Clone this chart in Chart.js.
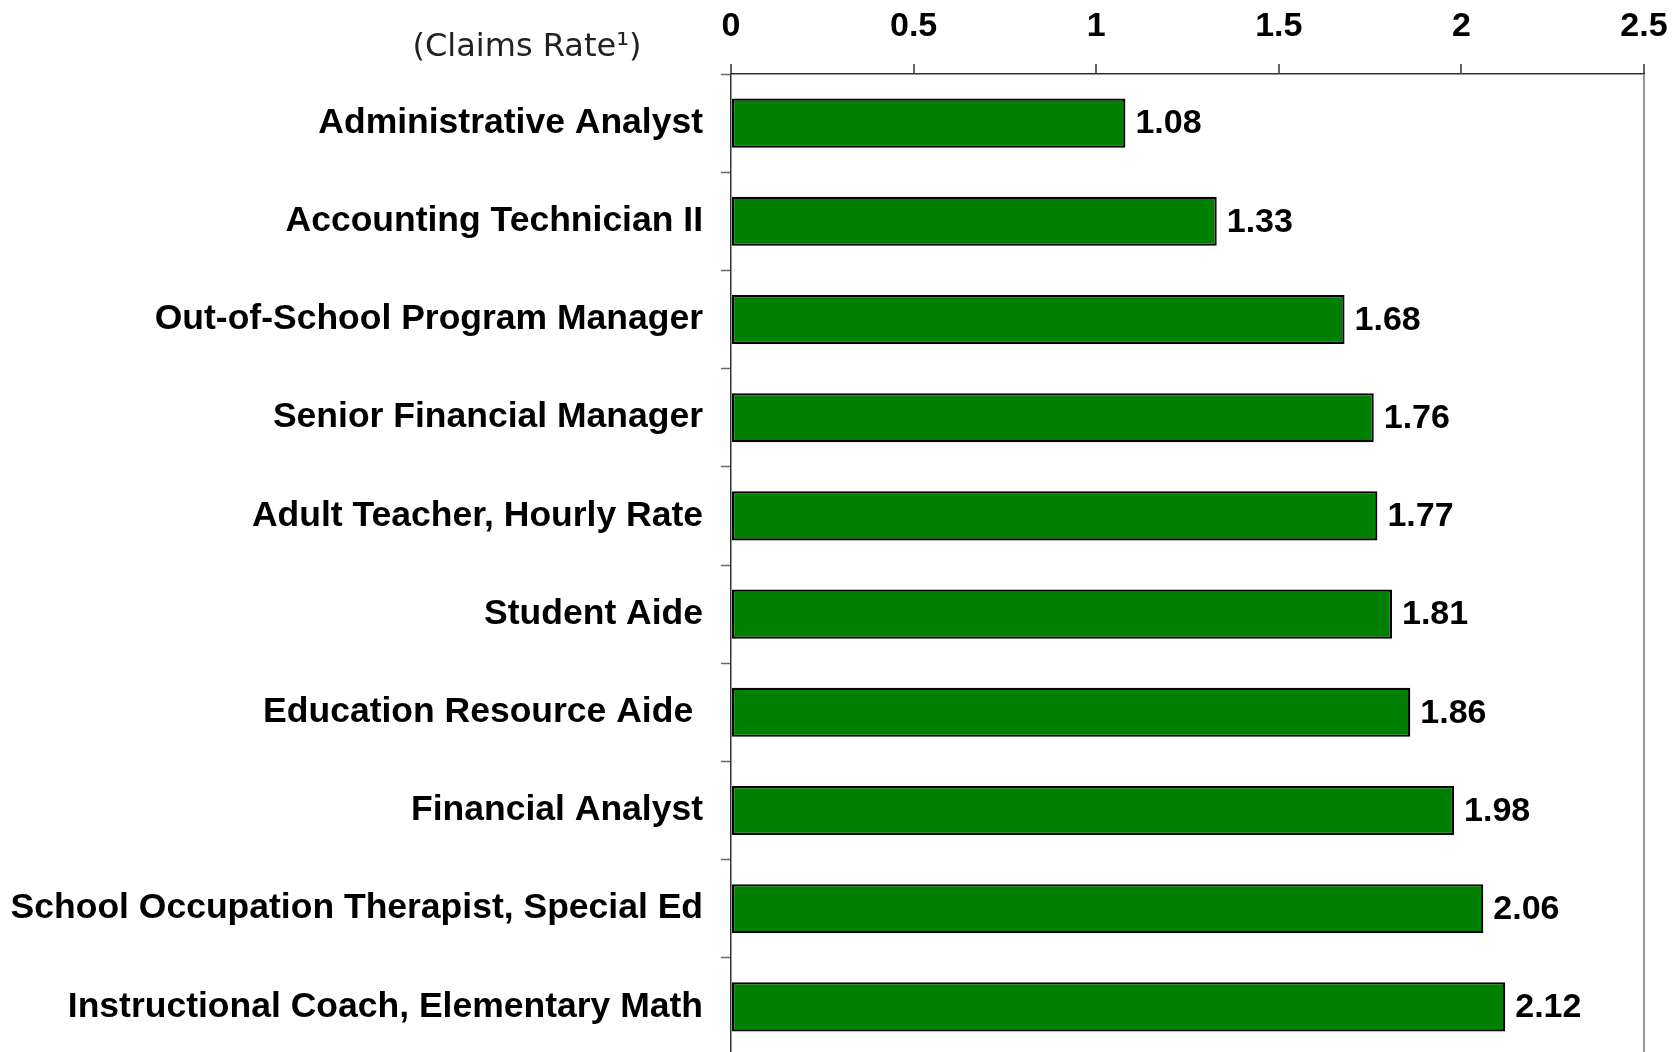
<!DOCTYPE html>
<html>
<head>
<meta charset="utf-8">
<script src="https://cdn.jsdelivr.net/npm/chart.js@4"></script>
<style>
  html, body { margin: 0; padding: 0; background: #fff; overflow: hidden; }
  #wrap { width: 1680px; height: 1056px; }
</style>
</head>
<body>
<div id="wrap"><canvas id="chart"></canvas></div>
<script>
var categories = [
    'Administrative Analyst',
    'Accounting Technician II',
    'Out-of-School Program Manager',
    'Senior Financial Manager',
    'Adult Teacher, Hourly Rate',
    'Student Aide',
    'Education Resource Aide ',
    'Financial Analyst',
    'School Occupation Therapist, Special Ed',
    'Instructional Coach, Elementary Math'
];
var claimsRate = [1.08, 1.33, 1.68, 1.76, 1.77, 1.81, 1.86, 1.98, 2.06, 2.12];
var xTicks = [0, 0.5, 1, 1.5, 2, 2.5];
var unitLabel = '(Claims Rate\u00B9)';

// value labels at the end of each bar
var valueLabels = {
    id: 'valueLabels',
    afterDatasetsDraw: function (chart) {
        var ctx = chart.ctx;
        var meta = chart.getDatasetMeta(0);
        ctx.save();
        ctx.font = 'bold 34px "Liberation Sans", Arial, sans-serif';
        ctx.fillStyle = '#000';
        ctx.textAlign = 'left';
        ctx.textBaseline = 'middle';
        meta.data.forEach(function (bar, i) {
            ctx.fillText(claimsRate[i].toFixed(2), bar.x + 10, bar.y + 1);
        });
        ctx.restore();
    }
};

// "(Claims Rate1)" caption above the category labels
var unitCaption = {
    id: 'unitCaption',
    afterDraw: function (chart) {
        var ctx = chart.ctx;
        ctx.save();
        ctx.font = '32px "DejaVu Sans", Verdana, sans-serif';
        ctx.fillStyle = '#222';
        ctx.textAlign = 'center';
        ctx.textBaseline = 'middle';
        ctx.fillText(unitLabel, chart.chartArea.left - 204, 48);
        ctx.restore();
    }
};

var ctx = document.getElementById('chart').getContext('2d');
var chart = new Chart(ctx, {
    type: 'bar',
    data: {
        labels: categories,
        datasets: [{
            data: claimsRate,
            backgroundColor: '#008000',
            borderColor: '#000',
            borderWidth: 2.2,
            borderSkipped: false,
            barPercentage: 0.5,
            categoryPercentage: 1
        }]
    },
    options: {
        indexAxis: 'y',
        responsive: true,
        maintainAspectRatio: false,
        animation: false,
        layout: { padding: { top: 0, right: 36, bottom: 0, left: 0 } },
        plugins: {
            legend: { display: false },
            tooltip: { enabled: false }
        },
        scales: {
            x: {
                position: 'top',
                min: 0,
                max: 2.5,
                afterBuildTicks: function (scale) {
                    scale.ticks = xTicks.map(function (v) { return { value: v }; });
                },
                afterFit: function (scale) {
                    scale.height = 74;
                    scale.paddingLeft = 0;
                    scale.paddingRight = 0;
                },
                ticks: {
                    font: { family: '"Liberation Sans", Arial, sans-serif', size: 34, weight: 'bold' },
                    color: '#000',
                    padding: 17,
                    maxRotation: 0,
                    callback: function (v) { return String(v); }
                },
                grid: {
                    drawOnChartArea: true,
                    color: function (c) { return c.index === xTicks.length - 1 ? '#999' : 'rgba(0,0,0,0)'; },
                    lineWidth: 2,
                    tickColor: '#333',
                    tickLength: 10,
                    tickWidth: 1.5
                },
                border: { color: '#333', width: 1.5 }
            },
            y: {
                afterFit: function (scale) {
                    scale.width = 731;
                    scale.paddingTop = 0;
                    scale.paddingBottom = 0;
                },
                ticks: {
                    font: { family: '"Liberation Sans", Arial, sans-serif', size: 35.5, weight: 'bold' },
                    color: '#000',
                    padding: 18,
                    autoSkip: false
                },
                grid: {
                    offset: true,
                    drawOnChartArea: false,
                    tickColor: '#666',
                    tickLength: 10,
                    tickWidth: 1.5
                },
                border: { color: '#333', width: 1.5 }
            }
        }
    },
    plugins: [valueLabels, unitCaption]
});
</script>
</body>
</html>
